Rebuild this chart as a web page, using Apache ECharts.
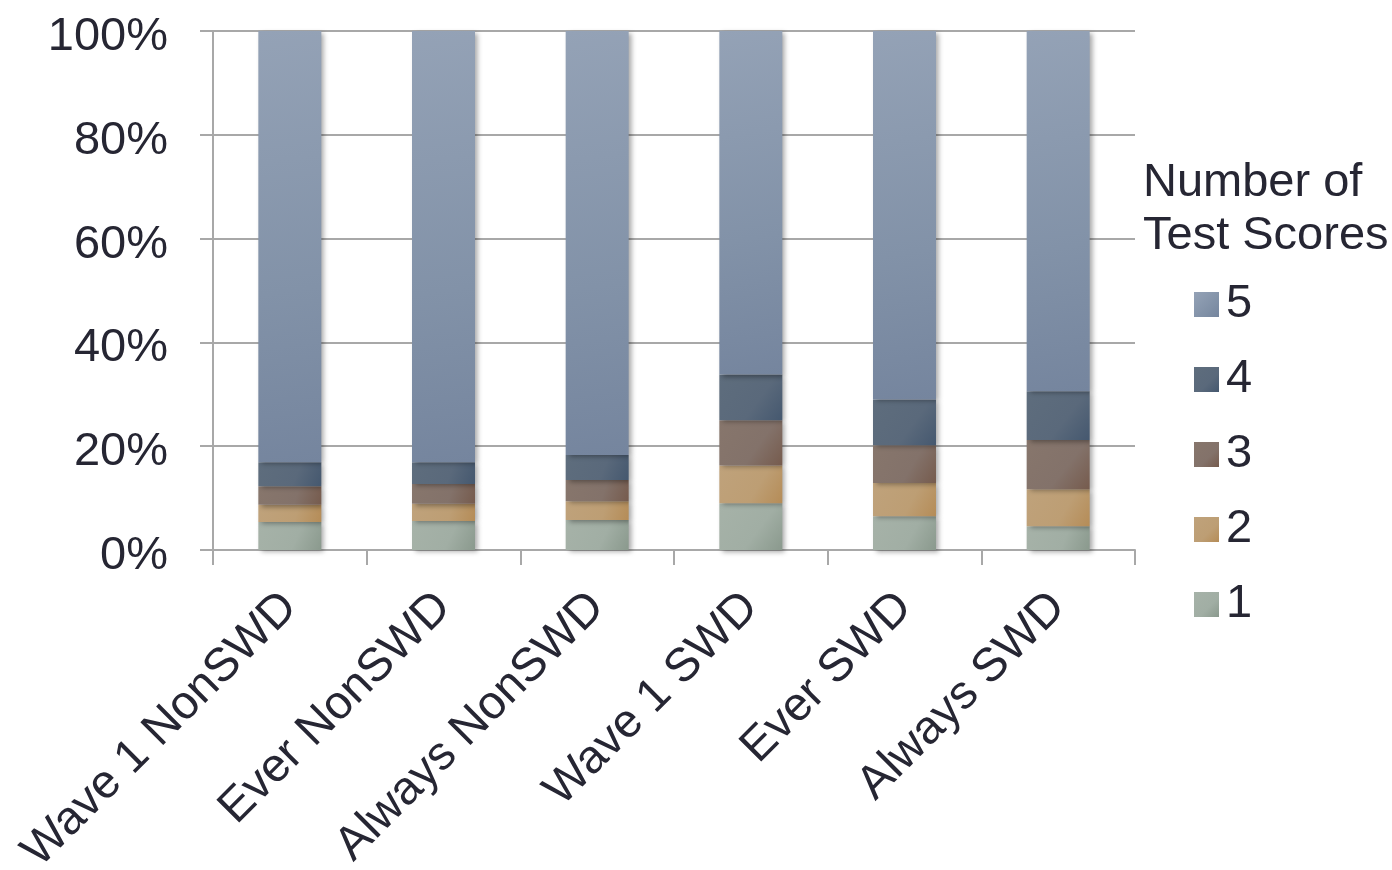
<!DOCTYPE html>
<html>
<head>
<meta charset="utf-8">
<script src="https://cdn.jsdelivr.net/npm/echarts@6/dist/echarts.min.js"></script>
<style>
  html, body { margin: 0; padding: 0; background: #fff; }
  #main { width: 1392px; height: 870px; }
</style>
</head>
<body>
<div id="main"></div>
<script>
// categories and stacked percentages
const categories = ['Wave 1 NonSWD', 'Ever NonSWD', 'Always NonSWD', 'Wave 1 SWD', 'Ever SWD', 'Always SWD'];
const score1 = [5.4, 5.6, 5.8, 9.0, 6.5, 4.6];
const score2 = [3.3, 3.3, 3.6, 7.3, 6.4, 7.1];
const score3 = [3.6, 3.8, 4.1, 8.7, 7.3, 9.5];
const score4 = [4.6, 4.2, 4.8, 8.8, 8.8, 9.4];
const score5 = [83.1, 83.1, 81.7, 66.2, 71.0, 69.4];
const yTicks = [0, 20, 40, 60, 80, 100];

const txt = '#262633';
const lineCol = '#a8a8a8';
const font = 'Liberation Sans, Arial, sans-serif';

function grad(c1, c2, c3) {
    return new echarts.graphic.LinearGradient(0, 0, 1, 1, [
        { offset: 0, color: c1 },
        { offset: 0.6, color: c2 },
        { offset: 1, color: c3 }
    ]);
}

const colors = {
    '1': grad('#a6b2a8', '#a1aea4', '#8a998d'),
    '2': grad('#bfa27b', '#bd9e74', '#b58c57'),
    '3': grad('#87766c', '#83726a', '#765b4d'),
    '4': grad('#5e6d7d', '#5a697b', '#45586f'),
    '5': grad('#94a2b6', '#8292a8', '#75859e')
};

function mk(name, data) {
    return {
        name: name,
        type: 'bar',
        stack: 'all',
        data: data,
        barWidth: '41%',
        itemStyle: {
            color: colors[name],
            shadowColor: 'rgba(0,0,0,0.35)',
            shadowBlur: 5,
            shadowOffsetX: 3,
            shadowOffsetY: 2
        }
    };
}

let myChart = echarts.init(document.getElementById('main'));
let option = {
    animation: false,
    textStyle: { fontFamily: font },
    grid: {
        left: 213,
        right: 257,
        top: 31,
        bottom: 320,
        containLabel: false,
        outerBoundsMode: 'none'
    },
    title: {
        text: 'Number of\nTest Scores',
        left: 1138,
        top: 152,
        textStyle: {
            color: txt,
            fontSize: 47,
            fontWeight: 'normal',
            lineHeight: 53,
            fontFamily: font
        }
    },
    legend: {
        orient: 'vertical',
        left: 1189,
        top: 276,
        itemWidth: 25,
        itemHeight: 25,
        itemGap: 28,
        icon: 'rect',
        data: ['5', '4', '3', '2', '1'],
        textStyle: {
            color: txt,
            fontSize: 47,
            lineHeight: 47,
            padding: [0, 0, 0, 2],
            fontFamily: font
        }
    },
    xAxis: {
        type: 'category',
        data: categories,
        axisLine: { lineStyle: { color: lineCol, width: 2 } },
        axisTick: { show: true, length: 15, lineStyle: { color: lineCol, width: 2 } },
        axisLabel: {
            rotate: 45,
            interval: 0,
            margin: 50,
            color: txt,
            fontSize: 47
        }
    },
    yAxis: {
        type: 'value',
        min: 0,
        max: 100,
        interval: 20,
        axisLine: { show: true, lineStyle: { color: lineCol, width: 2 } },
        axisTick: { show: true, length: 13, lineStyle: { color: lineCol, width: 2 } },
        splitLine: { lineStyle: { color: lineCol, width: 2 } },
        axisLabel: {
            margin: 45,
            color: txt,
            fontSize: 47,
            verticalAlign: 'top',
            lineHeight: 12,
            formatter: function (v) { return yTicks.indexOf(v) >= 0 ? v + '%' : ''; }
        }
    },
    series: [
        mk('1', score1),
        mk('2', score2),
        mk('3', score3),
        mk('4', score4),
        mk('5', score5)
    ]
};
myChart.setOption(option);
</script>
</body>
</html>
